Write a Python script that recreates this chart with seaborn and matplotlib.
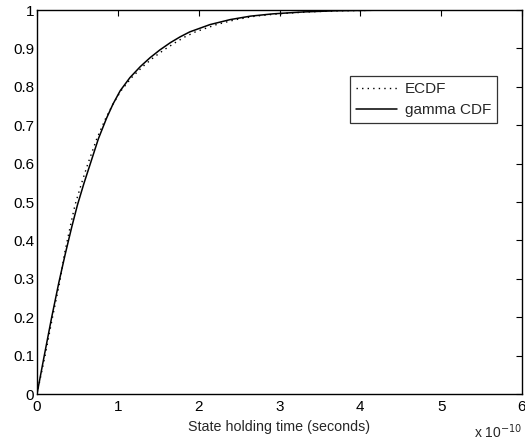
import numpy as np
import pandas as pd
import matplotlib
matplotlib.use("Agg")
import matplotlib.pyplot as plt
import seaborn as sns

# Time values in units of 1e-10 seconds
gamma_t = [0, 0.09, 0.18, 0.27, 0.35, 0.43, 0.50, 0.58, 0.66, 0.76, 0.86, 0.94, 1.03, 1.15, 1.28,
           1.40, 1.52, 1.65, 1.77, 1.89, 2.14, 2.39, 2.64, 2.92, 3.30, 3.70, 4.20, 5.00, 6.00]
gamma_F = [0, 0.10, 0.198, 0.29, 0.365, 0.435, 0.492, 0.548, 0.600, 0.665, 0.718, 0.755, 0.790, 0.824, 0.853,
           0.876, 0.896, 0.915, 0.930, 0.943, 0.962, 0.975, 0.984, 0.990, 0.995, 0.998, 0.9995, 1.0, 1.0]

ecdf_t = [0, 0.10, 0.19, 0.28, 0.34, 0.41, 0.47, 0.55, 0.63, 0.74, 0.85, 0.94, 1.04, 1.17, 1.31,
          1.44, 1.57, 1.71, 1.83, 1.96, 2.22, 2.46, 2.70, 2.98, 3.35, 3.75, 4.25, 5.00, 6.00]
ecdf_F = [0, 0.10, 0.198, 0.29, 0.365, 0.435, 0.492, 0.548, 0.600, 0.665, 0.718, 0.755, 0.790, 0.824, 0.853,
          0.876, 0.896, 0.915, 0.930, 0.943, 0.962, 0.975, 0.984, 0.990, 0.995, 0.998, 0.9995, 1.0, 1.0]

xticks = [0, 1, 2, 3, 4, 5, 6]
yticks = [0, 0.1, 0.2, 0.3, 0.4, 0.5, 0.6, 0.7, 0.8, 0.9, 1]
ytick_labels = ["0", "0.1", "0.2", "0.3", "0.4", "0.5", "0.6", "0.7", "0.8", "0.9", "1"]

sns.set_style("white")
plt.rcParams['font.family'] = ['Liberation Sans', 'DejaVu Sans']

fig = plt.figure(figsize=(5.25, 4.41), dpi=100)
ax = fig.add_axes([37/525, 1 - 394/441, (522-37)/525, (394-10)/441])

df_e = pd.DataFrame({"t": ecdf_t, "F": ecdf_F})
df_g = pd.DataFrame({"t": gamma_t, "F": gamma_F})
sns.lineplot(data=df_e, x="t", y="F", ax=ax, color="black", linestyle=(0, (1, 3)),
             linewidth=1.0, label="ECDF", estimator=None, sort=False)
sns.lineplot(data=df_g, x="t", y="F", ax=ax, color="black", linestyle="-",
             linewidth=1.1, label="gamma CDF", estimator=None, sort=False)

ax.set_xlim(0, 6)
ax.set_ylim(0, 1)
ax.set_xticks(xticks)
ax.set_xticklabels([str(v) for v in xticks])
ax.set_yticks(yticks)
ax.set_yticklabels(ytick_labels)
ax.tick_params(direction="in", length=4, width=0.8, top=True, right=True,
               labelsize=11, colors="black")
ax.tick_params(axis="x", pad=4)
ax.tick_params(axis="y", pad=2)
for s in ax.spines.values():
    s.set_color("black")
    s.set_linewidth(1.0)

ax.set_xlabel("State holding time (seconds)", fontsize=10.3, labelpad=5)
ax.set_ylabel("")
fig.text(522/525, 1 - 432/441, "x 10$^{-10}$", ha="right", va="center", fontsize=10)

leg = ax.legend(loc="upper right", bbox_to_anchor=((497-37)/485, (394-76)/384),
                borderaxespad=0, frameon=True, fancybox=False, edgecolor="black", fontsize=11,
                handlelength=2.7, borderpad=0.4, labelspacing=0.45, handletextpad=0.5)
leg.get_frame().set_linewidth(0.9)

fig.savefig("out.png", dpi=100)
